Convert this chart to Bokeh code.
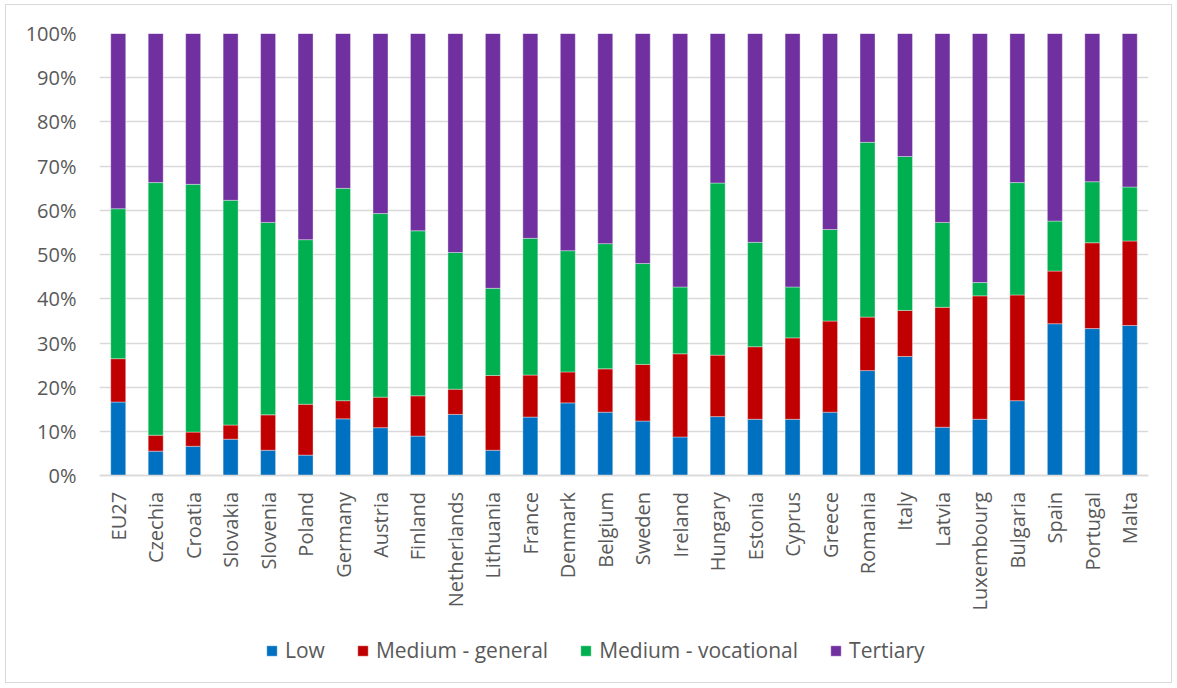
from bokeh.plotting import figure
from bokeh.models import (ColumnDataSource, FactorRange, Range1d, FixedTicker,
                          PrintfTickFormatter, Legend, LegendItem)
from bokeh.embed import file_html
from bokeh.resources import INLINE

countries = ["EU27", "Czechia", "Croatia", "Slovakia", "Slovenia", "Poland", "Germany",
             "Austria", "Finland", "Netherlands", "Lithuania", "France", "Denmark",
             "Belgium", "Sweden", "Ireland", "Hungary", "Estonia", "Cyprus", "Greece",
             "Romania", "Italy", "Latvia", "Luxembourg", "Bulgaria", "Spain", "Portugal",
             "Malta"]
low = [16.7, 5.6, 6.7, 8.3, 5.8, 4.7, 12.9, 10.9, 9.0, 13.9, 5.8, 13.3, 16.5, 14.4,
       12.4, 8.8, 13.4, 12.8, 12.8, 14.4, 23.8, 27.0, 11.0, 12.8, 17.0, 34.4, 33.3, 34.0]
medium_general = [9.8, 3.6, 3.2, 3.2, 8.0, 11.5, 4.1, 6.9, 9.1, 5.7, 16.9, 9.5, 7.0, 9.8,
                  12.8, 18.8, 13.9, 16.4, 18.4, 20.6, 12.1, 10.4, 27.1, 27.9, 23.9, 11.9,
                  19.4, 19.1]
medium_vocational = [33.9, 57.1, 56.0, 50.8, 43.5, 37.2, 48.0, 41.5, 37.3, 30.9, 19.7,
                     30.9, 27.4, 28.3, 22.8, 15.1, 38.9, 23.6, 11.5, 20.7, 39.5, 34.8,
                     19.2, 3.0, 25.4, 11.3, 13.8, 12.2]
tertiary = [39.6, 33.7, 34.1, 37.7, 42.7, 46.6, 35.0, 40.7, 44.6, 49.5, 57.6, 46.3, 49.1,
            47.5, 52.0, 57.3, 33.8, 47.2, 57.3, 44.3, 24.6, 27.8, 42.7, 56.3, 33.7, 42.4,
            33.5, 34.7]
series = ["Low", "Medium - general", "Medium - vocational", "Tertiary"]
colors = ["#0070C0", "#C00000", "#00B050", "#7030A0"]
y_ticks = [0, 10, 20, 30, 40, 50, 60, 70, 80, 90, 100]

source = ColumnDataSource(dict(country=countries, low=low, mg=medium_general,
                               mv=medium_vocational, ter=tertiary))

FONT = "Open Sans"
TXT = "#595959"

# the frame reaches below 0 so that the category labels and legend sit inside it
p = figure(x_range=FactorRange(factors=countries, range_padding=0),
           y_range=Range1d(-46.7, 100), width=1167, height=679,
           output_backend="svg", toolbar_location=None,
           min_border_left=93, min_border_right=25, min_border_top=28,
           min_border_bottom=2)
p.styles = {"border": "1px solid #d9d9d9", "margin-left": "5px", "margin-top": "4px"}

rs = p.vbar_stack(["low", "mg", "mv", "ter"], x="country", width=0.40, source=source,
                  color=colors, line_color="white", line_alpha=0.45, line_width=0.8)

p.outline_line_color = None
p.xgrid.grid_line_color = None
p.ygrid.ticker = FixedTicker(ticks=y_ticks)
p.ygrid.grid_line_color = "#d9d9d9"
p.ygrid.grid_line_width = 1.5
p.yaxis.ticker = FixedTicker(ticks=y_ticks)
p.yaxis.formatter = PrintfTickFormatter(format="%d%%")
p.yaxis.axis_line_color = None
p.yaxis.major_tick_line_color = None
p.yaxis.minor_tick_line_color = None
p.yaxis.major_label_standoff = 17
p.xaxis.fixed_location = 0
p.xaxis.axis_line_color = "#d9d9d9"
p.xaxis.axis_line_width = 1.5
p.xaxis.major_tick_line_color = None
p.xaxis.minor_tick_line_color = None
p.xaxis.major_label_orientation = 3.14159265 / 2
p.xaxis.major_label_standoff = 10
for ax in (p.xaxis[0], p.yaxis[0]):
    ax.major_label_text_font = FONT
    ax.major_label_text_font_size = "20px"
    ax.major_label_text_color = TXT

legend = Legend(items=[LegendItem(label=s, renderers=[r]) for s, r in zip(series, rs)],
                orientation="horizontal", location=(166, 18),
                glyph_width=13, glyph_height=13, label_standoff=7, spacing=31,
                padding=0, margin=0, border_line_color=None, background_fill_alpha=0,
                label_text_font=FONT, label_text_font_size="21px", label_text_color=TXT)
p.add_layout(legend, "center")

open("out.html", "w").write(file_html(p, INLINE))
